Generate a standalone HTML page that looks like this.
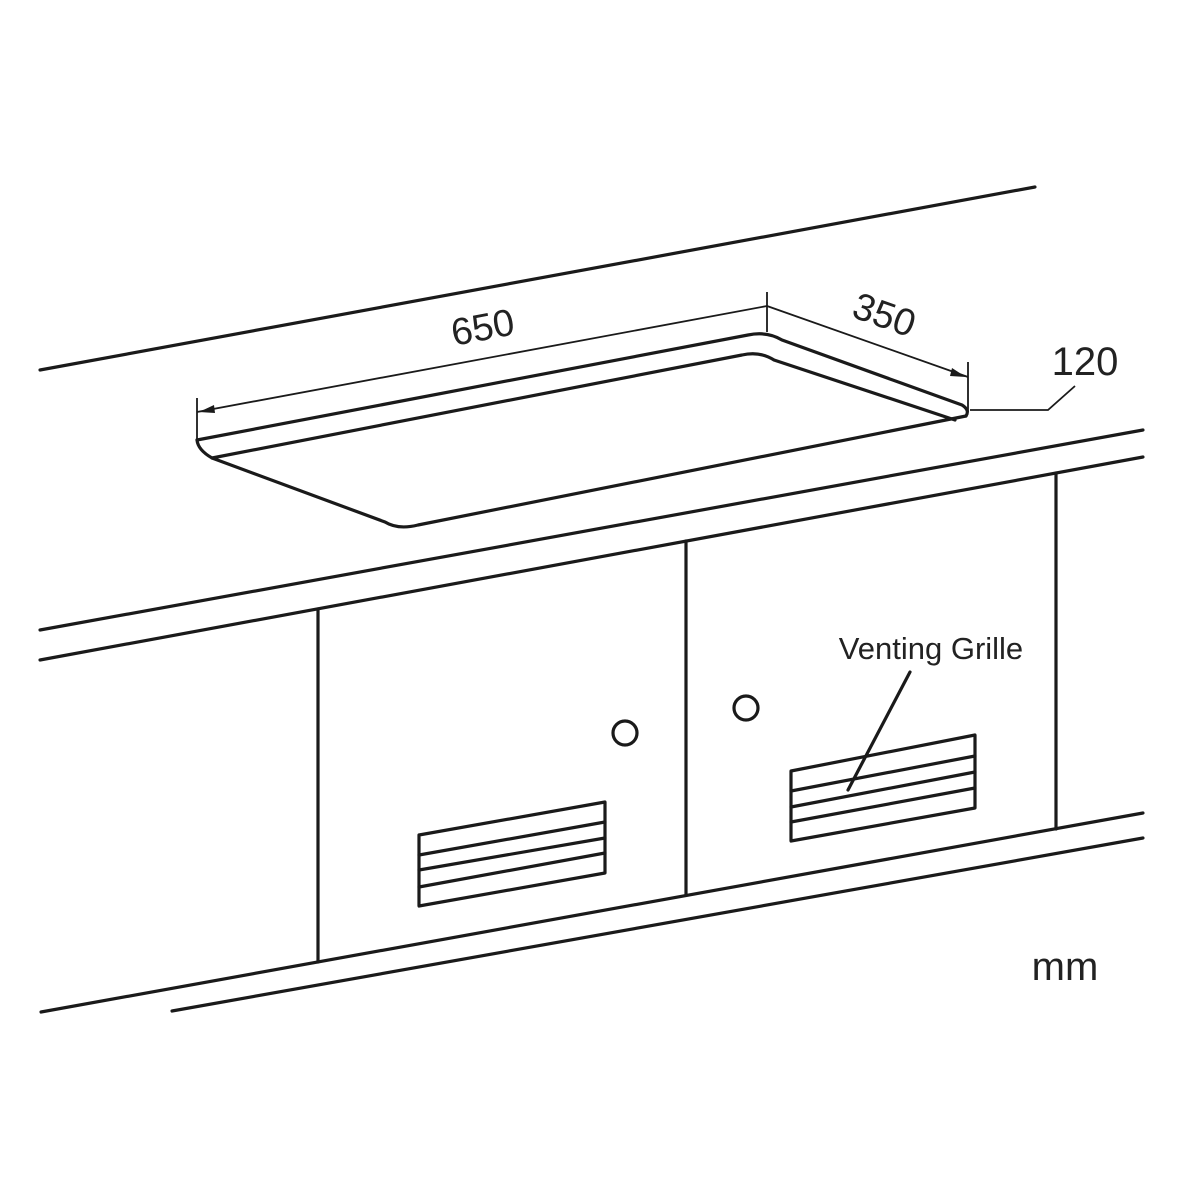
<!DOCTYPE html>
<html><head><meta charset="utf-8"><style>body{margin:0;background:#fff}svg{display:block}</style></head>
<body>
<svg width="1200" height="1200" viewBox="0 0 1200 1200" xmlns="http://www.w3.org/2000/svg" font-family="Liberation Sans, DejaVu Sans, sans-serif">
<g stroke="#1a1a1a" stroke-width="3.2" fill="none" stroke-linecap="round" stroke-linejoin="round">
<line x1="40" y1="370" x2="1035" y2="187"/>
<line x1="40" y1="630" x2="1143" y2="430"/>
<line x1="40" y1="660" x2="1143" y2="457"/>
<line x1="41" y1="1012" x2="1143" y2="813"/>
<line x1="172" y1="1011" x2="1143" y2="838"/>
<line x1="318" y1="609" x2="318" y2="962"/>
<line x1="686" y1="541" x2="686" y2="895"/>
<line x1="1056" y1="473" x2="1056" y2="829"/>
<circle cx="625" cy="733" r="12"/>
<circle cx="746" cy="708" r="12"/>
<polygon points="419,835 605,802 605,873 419,906"/>
<line x1="419" y1="855" x2="605" y2="822"/>
<line x1="419" y1="870" x2="605" y2="838"/>
<line x1="419" y1="887" x2="605" y2="853"/>
<polygon points="791,771 975,735 975,808 791,841"/>
<line x1="791" y1="791" x2="975" y2="756"/>
<line x1="791" y1="807" x2="975" y2="772"/>
<line x1="791" y1="822" x2="975" y2="788"/>
<line x1="910" y1="672" x2="848" y2="790"/>
<path d="M197,440 L748,335 Q767,331 782,340 L962,405 Q970,410 966,416"/>
<path d="M212,458 L742,355 Q760,351 774,360 L955,420"/>
<path d="M197,440 Q198,450 212,458 L385,522 Q398,530 418,525 L966,416"/>
</g>
<g stroke="#1a1a1a" stroke-width="1.8" fill="none">
<line x1="197" y1="398" x2="197" y2="440"/>
<line x1="767" y1="292" x2="767" y2="332"/>
<line x1="968" y1="362" x2="968" y2="412"/>
<line x1="197" y1="412" x2="767" y2="306"/>
<line x1="767" y1="306" x2="968" y2="377"/>
<polyline points="970,410 1048,410 1075,386"/>
</g>
<polygon points="199,412 214,405 215,413" fill="#1a1a1a"/>
<polygon points="966,377 952,368 950,376" fill="#1a1a1a"/>
<g fill="#222" font-size="38">
<text x="0" y="0" text-anchor="middle" transform="translate(485,340) rotate(-10.6)">650</text>
<text x="0" y="0" text-anchor="middle" transform="translate(880,327) rotate(19.5)">350</text>
<text x="1085" y="375" text-anchor="middle" font-size="40">120</text>
<text x="1065" y="980" text-anchor="middle" font-size="40">mm</text>
<text x="931" y="659" text-anchor="middle" font-size="31">Venting Grille</text>
</g>
</svg>
</body></html>
